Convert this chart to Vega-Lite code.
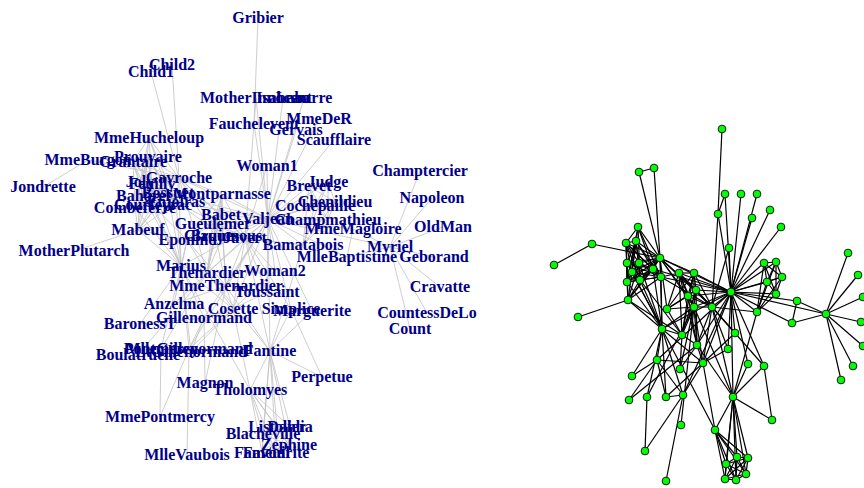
{
"$schema":"https://vega.github.io/schema/vega-lite/v6.json",
"background":"white",
"padding":0,
"spacing":0,
"bounds":"flush",
"config":{"view":{"stroke":null}},
"datasets":{
"nodes":[
{"id":0,"name":"Myriel","lx":390,"ly":247,"rx":826,"ry":314},
{"id":1,"name":"Napoleon","lx":432,"ly":198,"rx":848,"ry":253},
{"id":2,"name":"MlleBaptistine","lx":347,"ly":257,"rx":797,"ry":301},
{"id":3,"name":"MmeMagloire","lx":353,"ly":229,"rx":792,"ry":323},
{"id":4,"name":"CountessDeLo","lx":427,"ly":313,"rx":858,"ry":275},
{"id":5,"name":"Geborand","lx":434,"ly":257,"rx":863,"ry":297},
{"id":6,"name":"Champtercier","lx":420,"ly":171,"rx":861,"ry":322},
{"id":7,"name":"Cravatte","lx":440,"ly":287,"rx":863,"ry":346},
{"id":8,"name":"Count","lx":410,"ly":329,"rx":853,"ry":366},
{"id":9,"name":"OldMan","lx":443,"ly":227,"rx":841,"ry":380},
{"id":10,"name":"Labarre","lx":304,"ly":98,"rx":741,"ry":194},
{"id":11,"name":"Valjean","lx":268,"ly":219,"rx":731,"ry":292},
{"id":12,"name":"Marguerite","lx":312,"ly":311,"rx":748,"ry":364},
{"id":13,"name":"MmeDeR","lx":319,"ly":119,"rx":757,"ry":194},
{"id":14,"name":"Isabeau","lx":283,"ly":98,"rx":770,"ry":210},
{"id":15,"name":"Gervais","lx":296,"ly":130,"rx":752,"ry":218},
{"id":16,"name":"Tholomyes","lx":250,"ly":390,"rx":715,"ry":430},
{"id":17,"name":"Listolier","lx":277,"ly":427,"rx":737,"ry":457},
{"id":18,"name":"Fameuil","lx":262,"ly":453,"rx":748,"ry":458},
{"id":19,"name":"Blacheville","lx":263,"ly":434,"rx":726,"ry":464},
{"id":20,"name":"Favourite","lx":276,"ly":453,"rx":746,"ry":474},
{"id":21,"name":"Dahlia","lx":290,"ly":427,"rx":725,"ry":479},
{"id":22,"name":"Zephine","lx":289,"ly":445,"rx":736,"ry":480},
{"id":23,"name":"Fantine","lx":270,"ly":351,"rx":733,"ry":397},
{"id":24,"name":"MmeThenardier","lx":226,"ly":286,"rx":697,"ry":345},
{"id":25,"name":"Thenardier","lx":207,"ly":273,"rx":694,"ry":307},
{"id":26,"name":"Cosette","lx":233,"ly":309,"rx":703,"ry":363},
{"id":27,"name":"Javert","lx":245,"ly":238,"rx":712,"ry":307},
{"id":28,"name":"Fauchelevent","lx":254,"ly":124,"rx":718,"ry":214},
{"id":29,"name":"Bamatabois","lx":303,"ly":245,"rx":757,"ry":312},
{"id":30,"name":"Perpetue","lx":322,"ly":377,"rx":772,"ry":420},
{"id":31,"name":"Simplice","lx":291,"ly":309,"rx":764,"ry":366},
{"id":32,"name":"Scaufflaire","lx":334,"ly":140,"rx":781,"ry":227},
{"id":33,"name":"Woman1","lx":267,"ly":166,"rx":729,"ry":248},
{"id":34,"name":"Judge","lx":328,"ly":182,"rx":764,"ry":263},
{"id":35,"name":"Champmathieu","lx":328,"ly":220,"rx":776,"ry":262},
{"id":36,"name":"Brevet","lx":309,"ly":186,"rx":782,"ry":277},
{"id":37,"name":"Chenildieu","lx":335,"ly":202,"rx":767,"ry":282},
{"id":38,"name":"Cochepaille","lx":315,"ly":206,"rx":776,"ry":294},
{"id":39,"name":"Pontmercy","lx":161,"ly":349,"rx":647,"ry":397},
{"id":40,"name":"Boulatruelle","lx":138,"ly":355,"rx":681,"ry":425},
{"id":41,"name":"Eponine","lx":187,"ly":240,"rx":682,"ry":335},
{"id":42,"name":"Anzelma","lx":174,"ly":304,"rx":680,"ry":369},
{"id":43,"name":"Woman2","lx":275,"ly":271,"rx":728,"ry":349},
{"id":44,"name":"MotherInnocent","lx":256,"ly":98,"rx":725,"ry":194},
{"id":45,"name":"Gribier","lx":258,"ly":18,"rx":722,"ry":129},
{"id":46,"name":"Jondrette","lx":43,"ly":187,"rx":554,"ry":265},
{"id":47,"name":"MmeBurgon","lx":88,"ly":160,"rx":592,"ry":244},
{"id":48,"name":"Gavroche","lx":179,"ly":178,"rx":660,"ry":258},
{"id":49,"name":"Gillenormand","lx":204,"ly":318,"rx":657,"ry":360},
{"id":50,"name":"Magnon","lx":205,"ly":383,"rx":629,"ry":400},
{"id":51,"name":"MlleGillenormand","lx":189,"ly":349,"rx":683,"ry":395},
{"id":52,"name":"MmePontmercy","lx":160,"ly":417,"rx":645,"ry":451},
{"id":53,"name":"MlleVaubois","lx":187,"ly":455,"rx":666,"ry":481},
{"id":54,"name":"LtGillenormand","lx":191,"ly":352,"rx":666,"ry":397},
{"id":55,"name":"Marius","lx":181,"ly":266,"rx":662,"ry":329},
{"id":56,"name":"BaronessT","lx":140,"ly":324,"rx":632,"ry":376},
{"id":57,"name":"Mabeuf","lx":138,"ly":230,"rx":628,"ry":300},
{"id":58,"name":"Enjolras","lx":176,"ly":202,"rx":661,"ry":277},
{"id":59,"name":"Combeferre","lx":135,"ly":208,"rx":627,"ry":263},
{"id":60,"name":"Prouvaire","lx":148,"ly":157,"rx":636,"ry":241},
{"id":61,"name":"Feuilly","lx":152,"ly":184,"rx":639,"ry":263},
{"id":62,"name":"Courfeyrac","lx":153,"ly":205,"rx":640,"ry":280},
{"id":63,"name":"Bahorel","lx":143,"ly":196,"rx":627,"ry":282},
{"id":64,"name":"Bossuet","lx":168,"ly":193,"rx":653,"ry":269},
{"id":65,"name":"Joly","lx":140,"ly":182,"rx":632,"ry":272},
{"id":66,"name":"Grantaire","lx":133,"ly":162,"rx":626,"ry":243},
{"id":67,"name":"MotherPlutarch","lx":74,"ly":251,"rx":578,"ry":317},
{"id":68,"name":"Gueulemer","lx":213,"ly":224,"rx":688,"ry":296},
{"id":69,"name":"Babet","lx":221,"ly":215,"rx":696,"ry":290},
{"id":70,"name":"Claquesous","lx":223,"ly":236,"rx":679,"ry":273},
{"id":71,"name":"Montparnasse","lx":222,"ly":194,"rx":694,"ry":273},
{"id":72,"name":"Toussaint","lx":267,"ly":292,"rx":735,"ry":333},
{"id":73,"name":"Child1","lx":151,"ly":72,"rx":639,"ry":172},
{"id":74,"name":"Child2","lx":172,"ly":65,"rx":654,"ry":168},
{"id":75,"name":"Brujon","lx":215,"ly":236,"rx":667,"ry":309},
{"id":76,"name":"MmeHucheloup","lx":149,"ly":138,"rx":638,"ry":227}
],
"edges":[
{"s":1,"t":0},{"s":2,"t":0},{"s":3,"t":0},{"s":3,"t":2},{"s":4,"t":0},{"s":5,"t":0},{"s":6,"t":0},{"s":7,"t":0},{"s":8,"t":0},{"s":9,"t":0},
{"s":11,"t":10},{"s":11,"t":3},{"s":11,"t":2},{"s":11,"t":0},{"s":12,"t":11},{"s":13,"t":11},{"s":14,"t":11},{"s":15,"t":11},
{"s":17,"t":16},{"s":18,"t":16},{"s":18,"t":17},{"s":19,"t":16},{"s":19,"t":17},{"s":19,"t":18},{"s":20,"t":16},{"s":20,"t":17},{"s":20,"t":18},{"s":20,"t":19},
{"s":21,"t":16},{"s":21,"t":17},{"s":21,"t":18},{"s":21,"t":19},{"s":21,"t":20},{"s":22,"t":16},{"s":22,"t":17},{"s":22,"t":18},{"s":22,"t":19},{"s":22,"t":20},{"s":22,"t":21},
{"s":23,"t":16},{"s":23,"t":17},{"s":23,"t":18},{"s":23,"t":19},{"s":23,"t":20},{"s":23,"t":21},{"s":23,"t":22},{"s":23,"t":12},{"s":23,"t":11},
{"s":24,"t":23},{"s":24,"t":11},{"s":25,"t":24},{"s":25,"t":23},{"s":25,"t":11},{"s":26,"t":24},{"s":26,"t":11},{"s":26,"t":16},{"s":26,"t":25},
{"s":27,"t":11},{"s":27,"t":23},{"s":27,"t":25},{"s":27,"t":24},{"s":27,"t":26},{"s":28,"t":11},{"s":28,"t":27},{"s":29,"t":23},{"s":29,"t":27},{"s":29,"t":11},
{"s":30,"t":23},{"s":31,"t":30},{"s":31,"t":11},{"s":31,"t":23},{"s":31,"t":27},{"s":32,"t":11},{"s":33,"t":11},{"s":33,"t":27},
{"s":34,"t":11},{"s":34,"t":29},{"s":35,"t":11},{"s":35,"t":34},{"s":35,"t":29},{"s":36,"t":34},{"s":36,"t":35},{"s":36,"t":11},{"s":36,"t":29},
{"s":37,"t":34},{"s":37,"t":35},{"s":37,"t":36},{"s":37,"t":11},{"s":37,"t":29},{"s":38,"t":34},{"s":38,"t":35},{"s":38,"t":36},{"s":38,"t":37},{"s":38,"t":11},{"s":38,"t":29},
{"s":39,"t":25},{"s":40,"t":25},{"s":41,"t":24},{"s":41,"t":25},{"s":42,"t":41},{"s":42,"t":25},{"s":42,"t":24},{"s":43,"t":11},{"s":43,"t":26},{"s":43,"t":27},
{"s":44,"t":28},{"s":44,"t":11},{"s":45,"t":28},{"s":47,"t":46},{"s":48,"t":47},{"s":48,"t":25},{"s":48,"t":27},{"s":48,"t":11},
{"s":49,"t":26},{"s":49,"t":11},{"s":50,"t":49},{"s":50,"t":24},{"s":51,"t":49},{"s":51,"t":26},{"s":51,"t":11},{"s":52,"t":51},{"s":52,"t":39},{"s":53,"t":51},
{"s":54,"t":51},{"s":54,"t":49},{"s":54,"t":26},{"s":55,"t":51},{"s":55,"t":49},{"s":55,"t":39},{"s":55,"t":54},{"s":55,"t":26},{"s":55,"t":11},{"s":55,"t":16},{"s":55,"t":25},{"s":55,"t":41},{"s":55,"t":48},
{"s":56,"t":49},{"s":56,"t":55},{"s":57,"t":55},{"s":57,"t":41},{"s":57,"t":48},{"s":58,"t":55},{"s":58,"t":48},{"s":58,"t":27},{"s":58,"t":57},{"s":58,"t":11},
{"s":59,"t":58},{"s":59,"t":55},{"s":59,"t":48},{"s":59,"t":57},{"s":60,"t":48},{"s":60,"t":58},{"s":60,"t":59},
{"s":61,"t":48},{"s":61,"t":58},{"s":61,"t":60},{"s":61,"t":59},{"s":61,"t":57},{"s":61,"t":55},
{"s":62,"t":55},{"s":62,"t":58},{"s":62,"t":59},{"s":62,"t":48},{"s":62,"t":57},{"s":62,"t":41},{"s":62,"t":61},{"s":62,"t":60},
{"s":63,"t":59},{"s":63,"t":48},{"s":63,"t":62},{"s":63,"t":57},{"s":63,"t":58},{"s":63,"t":61},{"s":63,"t":60},{"s":63,"t":55},
{"s":64,"t":55},{"s":64,"t":62},{"s":64,"t":48},{"s":64,"t":63},{"s":64,"t":58},{"s":64,"t":61},{"s":64,"t":60},{"s":64,"t":59},{"s":64,"t":57},{"s":64,"t":11},
{"s":65,"t":63},{"s":65,"t":64},{"s":65,"t":48},{"s":65,"t":62},{"s":65,"t":58},{"s":65,"t":61},{"s":65,"t":60},{"s":65,"t":59},{"s":65,"t":57},{"s":65,"t":55},
{"s":66,"t":64},{"s":66,"t":58},{"s":66,"t":59},{"s":66,"t":62},{"s":66,"t":65},{"s":66,"t":48},{"s":66,"t":63},{"s":66,"t":61},{"s":66,"t":60},
{"s":67,"t":57},{"s":68,"t":25},{"s":68,"t":11},{"s":68,"t":24},{"s":68,"t":27},{"s":68,"t":48},{"s":68,"t":41},
{"s":69,"t":25},{"s":69,"t":68},{"s":69,"t":11},{"s":69,"t":24},{"s":69,"t":27},{"s":69,"t":48},{"s":69,"t":41},
{"s":70,"t":25},{"s":70,"t":69},{"s":70,"t":68},{"s":70,"t":11},{"s":70,"t":24},{"s":70,"t":27},{"s":70,"t":41},{"s":70,"t":58},
{"s":71,"t":27},{"s":71,"t":69},{"s":71,"t":68},{"s":71,"t":70},{"s":71,"t":11},{"s":71,"t":48},{"s":71,"t":41},{"s":71,"t":25},
{"s":72,"t":26},{"s":72,"t":27},{"s":72,"t":11},{"s":73,"t":48},{"s":74,"t":48},{"s":74,"t":73},
{"s":75,"t":69},{"s":75,"t":68},{"s":75,"t":25},{"s":75,"t":48},{"s":75,"t":41},{"s":75,"t":70},{"s":75,"t":71},
{"s":76,"t":64},{"s":76,"t":65},{"s":76,"t":66},{"s":76,"t":63},{"s":76,"t":62},{"s":76,"t":48},{"s":76,"t":58}
]
},
"hconcat":[
{
"width":490,"height":488,
"layer":[
{"data":{"name":"edges"},
"transform":[
{"lookup":"s","from":{"data":{"name":"nodes"},"key":"id","fields":["lx","ly"]},"as":["sx","sy"]},
{"lookup":"t","from":{"data":{"name":"nodes"},"key":"id","fields":["lx","ly"]},"as":["tx","ty"]}
],
"mark":{"type":"rule","color":"#c2c2c2","strokeWidth":0.8},
"encoding":{
"x":{"field":"sx","type":"quantitative","scale":{"domain":[0,490],"nice":false,"zero":false},"axis":null},
"y":{"field":"sy","type":"quantitative","scale":{"domain":[0,488],"reverse":true,"nice":false,"zero":false},"axis":null},
"x2":{"field":"tx"},"y2":{"field":"ty"}}},
{"data":{"name":"nodes"},
"mark":{"type":"text","font":"Liberation Serif","fontWeight":"bold","fontSize":16,"color":"#00008b"},
"encoding":{
"x":{"field":"lx","type":"quantitative","scale":{"domain":[0,490],"nice":false,"zero":false},"axis":null},
"y":{"field":"ly","type":"quantitative","scale":{"domain":[0,488],"reverse":true,"nice":false,"zero":false},"axis":null},
"text":{"field":"name"}}}
]
},
{
"width":374,"height":488,
"layer":[
{"data":{"name":"edges"},
"transform":[
{"lookup":"s","from":{"data":{"name":"nodes"},"key":"id","fields":["rx","ry"]},"as":["sx","sy"]},
{"lookup":"t","from":{"data":{"name":"nodes"},"key":"id","fields":["rx","ry"]},"as":["tx","ty"]}
],
"mark":{"type":"rule","color":"#000000","strokeWidth":1.2},
"encoding":{
"x":{"field":"sx","type":"quantitative","scale":{"domain":[490,864],"nice":false,"zero":false},"axis":null},
"y":{"field":"sy","type":"quantitative","scale":{"domain":[0,488],"reverse":true,"nice":false,"zero":false},"axis":null},
"x2":{"field":"tx"},"y2":{"field":"ty"}}},
{"data":{"name":"nodes"},
"mark":{"type":"point","shape":"circle","filled":true,"fill":"#00ff00","stroke":"#1a1a1a","strokeWidth":1,"opacity":1,"size":60},
"encoding":{
"x":{"field":"rx","type":"quantitative","scale":{"domain":[490,864],"nice":false,"zero":false},"axis":null},
"y":{"field":"ry","type":"quantitative","scale":{"domain":[0,488],"reverse":true,"nice":false,"zero":false},"axis":null}}}
]
}
]
}
